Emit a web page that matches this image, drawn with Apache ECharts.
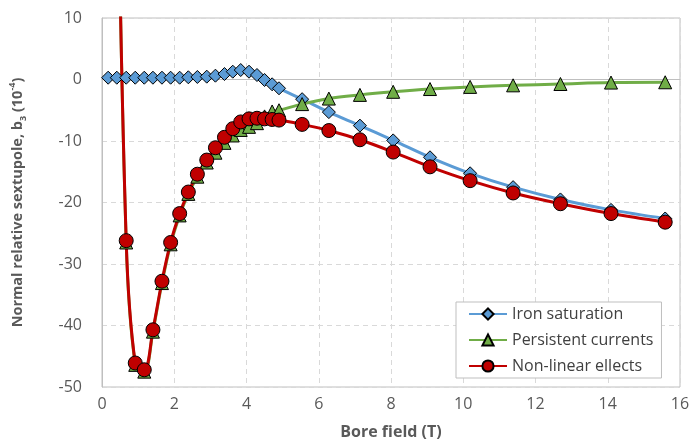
<!DOCTYPE html>
<html>
<head>
<meta charset="utf-8">
<script src="https://cdn.jsdelivr.net/npm/echarts@6/dist/echarts.min.js"></script>
<style>html,body{margin:0;padding:0;background:#fff}#c{width:693px;height:447px}</style>
</head>
<body>
<div id="c"></div>
<script>
// Bore field (T)
var boreField = [0.17, 0.41, 0.67, 0.92, 1.17, 1.41, 1.66, 1.90, 2.15, 2.39, 2.64, 2.90, 3.14, 3.39, 3.62, 3.84, 4.07, 4.29, 4.50, 4.71, 4.90,
                 5.54, 6.28, 7.14, 8.06, 9.08, 10.19, 11.38, 12.69, 14.09, 15.59];
// b3 values (10^-4)
var ironSaturation = [0.29, 0.29, 0.29, 0.29, 0.29, 0.29, 0.29, 0.29, 0.29, 0.36, 0.41, 0.46, 0.62, 0.89, 1.27, 1.54, 1.27, 0.73, -0.08, -0.78, -1.43,
                      -3.2, -5.3, -7.5, -9.9, -12.65, -15.25, -17.5, -19.5, -21.2, -22.6];
var persistentCurrents = [220, 50, -26.5, -46.4, -47.5, -41.0, -33.1, -26.8, -22.1, -18.6, -15.8, -13.5, -11.9, -10.3, -9.1, -8.2, -7.7, -7.1, -6.0, -5.2, -5.0,
                          -4.0, -3.1, -2.5, -2.0, -1.55, -1.2, -0.95, -0.73, -0.5, -0.45];
var nonLinearEffects = [220, 50, -26.2, -46.1, -47.2, -40.7, -32.8, -26.5, -21.8, -18.3, -15.4, -13.1, -11.1, -9.4, -8.0, -6.9, -6.4, -6.3, -6.4, -6.5, -6.6,
                        -7.3, -8.3, -9.8, -11.8, -14.2, -16.45, -18.45, -20.2, -21.8, -23.2];
var seriesNames = ['Iron saturation', 'Persistent currents', 'Non-linear ellects'];
var xTicks = {min: 0, max: 16, step: 2};
var yTicks = {min: -50, max: 10, step: 10};

function pairs(ys) { return boreField.map(function (x, i) { return [x, ys[i]]; }); }

var chart = echarts.init(document.getElementById('c'), null, {renderer: 'canvas'});
var font = '"Open Sans", sans-serif';
var grey = '#595959';
chart.setOption({
  animation: false,
  textStyle: {fontFamily: font},
  grid: {left: 100, right: 13, top: 18, bottom: 60, show: true, borderColor: '#bfbfbf', borderWidth: 1},
  xAxis: {
    type: 'value', min: xTicks.min, max: xTicks.max, interval: xTicks.step,
    name: 'Bore field (T)', nameLocation: 'middle', nameGap: 37,
    nameTextStyle: {color: grey, fontWeight: 'bold', fontSize: 16, fontFamily: font},
    axisLine: {show: true, lineStyle: {color: '#bfbfbf', width: 1}},
    axisTick: {show: false},
    axisLabel: {color: grey, fontSize: 16, margin: 9, fontFamily: font},
    splitLine: {show: true, lineStyle: {color: '#d9d9d9', type: [5, 4], width: 1}}
  },
  yAxis: {
    type: 'value', min: yTicks.min, max: yTicks.max, interval: yTicks.step,
    name: '{t|Normal relative sextupole, b}{sub|3}{t| (10}{sup|-4}{t|)}',
    nameLocation: 'middle', nameRotate: 90, nameGap: 74,
    nameTextStyle: {
      color: grey, fontWeight: 'bold', fontSize: 14, fontFamily: font,
      rich: {
        t: {color: grey, fontWeight: 'bold', fontSize: 14.5, fontFamily: font, lineHeight: 20, verticalAlign: 'middle'},
        sub: {color: grey, fontWeight: 'bold', fontSize: 9, fontFamily: font, lineHeight: 20, verticalAlign: 'bottom'},
        sup: {color: grey, fontWeight: 'bold', fontSize: 9, fontFamily: font, lineHeight: 20, verticalAlign: 'top'}
      }
    },
    axisLine: {show: true, lineStyle: {color: '#bfbfbf', width: 1}},
    axisTick: {show: false},
    axisLabel: {color: grey, fontSize: 16, margin: 20, fontFamily: font},
    splitLine: {show: true, lineStyle: {color: '#d9d9d9', type: [5, 4], width: 1}}
  },
  legend: {
    orient: 'vertical', left: 456, top: 302,
    padding: [4, 8, 4, 12], itemGap: 10, itemWidth: 38, itemHeight: 14,
    backgroundColor: '#fff', borderColor: '#bfbfbf', borderWidth: 1, borderRadius: 0,
    textStyle: {color: '#404040', fontSize: 16, fontFamily: font},
    data: seriesNames
  },
  series: [
    {
      name: seriesNames[0], type: 'line', data: pairs(ironSaturation), smooth: 0.35,
      symbol: 'diamond', symbolSize: 13,
      lineStyle: {color: '#5b9bd5', width: 3},
      itemStyle: {color: '#5b9bd5', borderColor: '#000', borderWidth: 1}
    },
    {
      name: seriesNames[1], type: 'line', data: pairs(persistentCurrents), smooth: 0.35,
      symbol: 'triangle', symbolSize: 13,
      lineStyle: {color: '#70ad47', width: 3},
      itemStyle: {color: '#70ad47', borderColor: '#000', borderWidth: 1}
    },
    {
      name: seriesNames[2], type: 'line', data: pairs(nonLinearEffects), smooth: 0.35,
      symbol: 'circle', symbolSize: 14,
      lineStyle: {color: '#c00000', width: 3},
      itemStyle: {color: '#c00000', borderColor: '#000', borderWidth: 1}
    }
  ]
});
</script>
</body>
</html>
